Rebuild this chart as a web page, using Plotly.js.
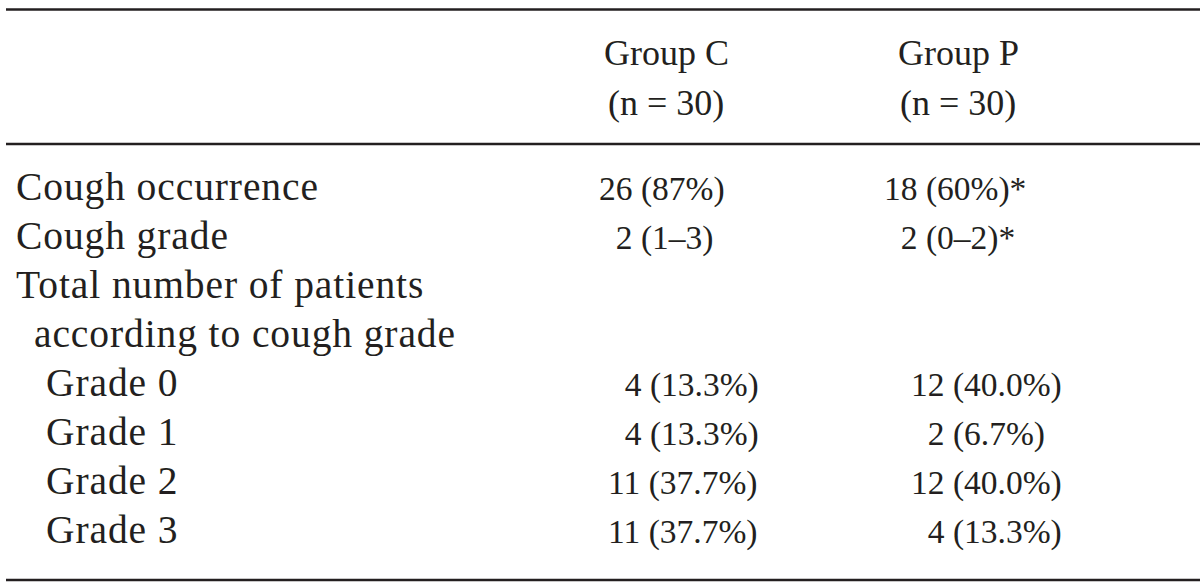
<!DOCTYPE html>
<html>
<head>
<meta charset="utf-8">
<script src="https://cdn.plot.ly/plotly-3.0.1.min.js"></script>
<style>
html,body{margin:0;padding:0;background:#fff;}
#chart{width:1200px;height:585px;}
</style>
</head>
<body>
<div id="chart"></div>
<script>
// ---- data ----
const headerTop = ["Group C", "Group P"];
const headerSub = ["(n = 30)", "(n = 30)"];
const rowLabels = ["Cough occurrence", "Cough grade", "Total number of patients",
  "according to cough grade", "Grade 0", "Grade 1", "Grade 2", "Grade 3"];
const rowIndent = [0, 0, 0, 1, 2, 2, 2, 2];
const groupC = ["26 (87%)", "2 (1–3)", "", "", "4 (13.3%)", "4 (13.3%)", "11 (37.7%)", "11 (37.7%)"];
const groupP = ["18 (60%)*", "2 (0–2)*", "", "", "12 (40.0%)", "2 (6.7%)", "12 (40.0%)", "4 (13.3%)"];

// ---- layout helpers ----
const W = 1200, H = 585;
const COLOR = "#231f20";
const FAMILY = "Liberation Serif, Times New Roman, serif";
const labelFont = {family: FAMILY, size: 39.5, color: COLOR};
const numFont = {family: FAMILY, size: 33.5, color: COLOR};
const headFont = {family: FAMILY, size: 36, color: COLOR};
const px = x => x / W;
const py = y => 1 - y / H;

function pad(s) {
  if (!s) return s;
  const m = s.match(/^(\d+)/);
  if (m && m[1].length < 2) return "\u2007".repeat(2 - m[1].length) + s;
  return s;
}

const ann = [];
function addText(text, x, baseline, anchor, font) {
  const shift = font.size * 0.32;
  ann.push({text: text, x: px(x), y: py(baseline - shift), xref: "paper", yref: "paper",
    xanchor: anchor, yanchor: "middle", showarrow: false, font: font, borderpad: 0});
}

// headers
const headerCenters = [666, 958];
headerTop.forEach((t, i) => addText(t, headerCenters[i], 65, "center", headFont));
headerSub.forEach((t, i) => addText(t, headerCenters[i], 115, "center", headFont));

// rows
const indentPx = [15, 33, 45];
const colLeft = [[598, 607], [883, 910]]; // [top block, grade block]
rowLabels.forEach((lab, i) => {
  const b = 200 + 49 * i;
  addText('<span style="letter-spacing:0.9px">' + lab + '</span>', indentPx[rowIndent[i]], b, "left", labelFont);
  const blk = i < 4 ? 0 : 1;
  if (groupC[i]) addText(pad(groupC[i]), colLeft[0][blk], b, "left", numFont);
  if (groupP[i]) addText(pad(groupP[i]), colLeft[1][blk], b, "left", numFont);
});

const lineStyle = {color: COLOR, width: 2.5};
const shapes = [9.5, 144, 580].map(y => ({type: "line", xref: "paper", yref: "paper",
  x0: px(6), x1: 1, y0: py(y), y1: py(y), line: lineStyle}));

Plotly.newPlot("chart", [], {
  width: W, height: H,
  margin: {l: 0, r: 0, t: 0, b: 0},
  paper_bgcolor: "#fff", plot_bgcolor: "#fff",
  xaxis: {visible: false}, yaxis: {visible: false},
  showlegend: false,
  annotations: ann, shapes: shapes
}, {displayModeBar: false, staticPlot: true});
</script>
</body>
</html>
